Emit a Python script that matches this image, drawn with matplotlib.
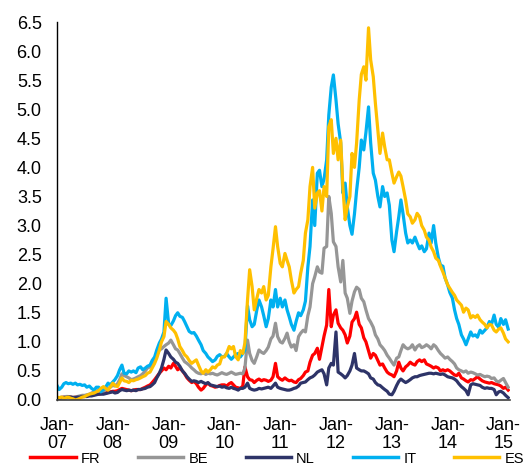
import matplotlib
matplotlib.use('Agg')
import matplotlib.pyplot as plt
import matplotlib.ticker as mticker
import pandas as pd
import numpy as np

plt.rcParams['font.family'] = ['Liberation Sans', 'DejaVu Sans']

# semi-monthly observations, Jan 2007 .. Feb 2015
dates = pd.date_range('2007-01-01', periods=195, freq='SMS')

fr = [0.04,0.04,0.04,0.05,0.05,0.05,0.05,0.04,0.05,0.05,0.06,0.06,
      0.06,0.07,0.08,0.08,0.09,0.10,0.10,0.11,0.12,0.12,0.13,0.14,
      0.15,0.15,0.16,0.18,0.20,0.19,0.18,0.17,0.16,0.17,0.18,0.18,
      0.18,0.20,0.22,0.24,0.26,0.30,0.35,0.40,0.46,0.50,0.55,0.52,
      0.58,0.55,0.63,0.58,0.52,0.55,0.50,0.45,0.38,0.34,0.30,0.32,
      0.28,0.22,0.17,0.20,0.26,0.29,0.25,0.24,0.22,0.23,0.25,0.26,
      0.26,0.24,0.28,0.30,0.26,0.22,0.21,0.20,0.24,0.57,0.40,0.35,
      0.34,0.30,0.34,0.36,0.33,0.35,0.34,0.32,0.34,0.40,0.63,0.40,
      0.36,0.34,0.38,0.35,0.33,0.34,0.31,0.30,0.35,0.37,0.42,0.48,
      0.50,0.65,0.77,0.80,0.89,0.70,0.91,1.10,1.29,1.90,1.26,1.46,
      1.55,1.32,1.24,1.20,1.12,0.98,1.10,1.34,1.40,1.51,1.30,1.24,
      1.07,1.00,0.85,0.72,0.80,0.77,0.68,0.60,0.62,0.55,0.48,0.45,
      0.43,0.40,0.50,0.65,0.55,0.50,0.57,0.60,0.65,0.62,0.60,0.66,
      0.69,0.66,0.69,0.62,0.60,0.58,0.55,0.57,0.55,0.50,0.52,0.50,
      0.52,0.50,0.46,0.43,0.42,0.46,0.38,0.36,0.33,0.31,0.35,0.34,
      0.37,0.40,0.36,0.33,0.31,0.30,0.29,0.30,0.28,0.27,0.26,0.24,0.20,0.22,0.17]

be = [0.04,0.04,0.05,0.05,0.06,0.06,0.05,0.05,0.05,0.06,0.07,0.08,
      0.08,0.09,0.10,0.12,0.14,0.15,0.17,0.16,0.14,0.18,0.20,0.22,
      0.25,0.24,0.28,0.35,0.45,0.42,0.40,0.38,0.35,0.36,0.38,0.40,
      0.42,0.45,0.50,0.55,0.57,0.62,0.70,0.78,0.86,0.88,0.92,0.95,
      0.98,1.03,0.95,0.88,0.86,0.80,0.72,0.66,0.63,0.60,0.55,0.52,
      0.48,0.46,0.45,0.47,0.44,0.46,0.45,0.46,0.44,0.43,0.45,0.47,
      0.45,0.44,0.46,0.48,0.46,0.44,0.45,0.46,0.45,0.55,1.03,0.80,
      0.68,0.63,0.75,0.86,0.82,0.80,0.85,0.91,1.05,1.10,1.32,1.09,
      1.00,0.98,1.06,1.15,1.00,0.91,0.95,0.85,1.09,1.15,1.20,1.17,
      1.45,1.60,2.00,2.12,2.29,2.20,2.18,2.61,2.64,3.50,3.21,2.72,
      2.64,2.29,2.03,2.40,1.84,1.75,1.49,1.70,1.86,1.94,1.90,1.75,
      1.69,1.55,1.40,1.34,1.25,1.12,1.05,0.95,0.90,0.85,0.77,0.72,
      0.65,0.60,0.72,0.74,0.85,0.95,0.90,0.88,0.90,0.95,0.86,0.92,
      0.95,0.90,0.92,0.95,0.92,0.88,0.95,0.92,0.85,0.80,0.76,0.72,
      0.74,0.70,0.66,0.62,0.55,0.52,0.50,0.48,0.50,0.46,0.48,0.47,
      0.45,0.43,0.44,0.42,0.40,0.41,0.40,0.37,0.38,0.33,0.31,0.34,0.37,0.30,0.22]

nl = [0.03,0.03,0.04,0.04,0.04,0.05,0.05,0.04,0.04,0.05,0.05,0.06,
      0.06,0.06,0.07,0.07,0.08,0.09,0.10,0.10,0.10,0.11,0.12,0.13,
      0.14,0.12,0.13,0.16,0.18,0.17,0.16,0.17,0.16,0.17,0.16,0.18,
      0.18,0.19,0.20,0.22,0.23,0.26,0.30,0.38,0.46,0.55,0.70,0.86,
      0.80,0.74,0.70,0.65,0.63,0.58,0.50,0.46,0.40,0.36,0.32,0.33,
      0.32,0.30,0.32,0.30,0.28,0.30,0.26,0.25,0.24,0.23,0.24,0.22,
      0.23,0.21,0.20,0.22,0.20,0.19,0.17,0.20,0.20,0.22,0.29,0.20,
      0.18,0.17,0.18,0.20,0.19,0.20,0.21,0.22,0.20,0.24,0.29,0.22,
      0.20,0.19,0.18,0.17,0.17,0.18,0.20,0.21,0.24,0.29,0.30,0.31,
      0.35,0.38,0.40,0.43,0.48,0.50,0.52,0.45,0.26,0.55,0.63,0.60,
      1.17,0.48,0.45,0.42,0.38,0.42,0.50,0.60,0.80,0.55,0.52,0.50,
      0.50,0.48,0.45,0.38,0.36,0.30,0.26,0.25,0.21,0.18,0.15,0.10,
      0.09,0.15,0.25,0.32,0.36,0.33,0.30,0.32,0.35,0.38,0.40,0.40,
      0.42,0.43,0.44,0.45,0.46,0.46,0.45,0.46,0.45,0.44,0.45,0.43,
      0.40,0.39,0.38,0.36,0.33,0.28,0.23,0.20,0.16,0.09,0.26,0.28,
      0.27,0.26,0.25,0.22,0.20,0.21,0.20,0.20,0.18,0.09,0.14,0.15,0.12,0.08,0.04]

it = [0.25,0.18,0.22,0.28,0.30,0.28,0.29,0.27,0.29,0.26,0.27,0.25,
      0.26,0.22,0.24,0.20,0.17,0.22,0.22,0.14,0.18,0.22,0.29,0.26,
      0.31,0.35,0.42,0.52,0.60,0.46,0.45,0.50,0.48,0.50,0.47,0.55,
      0.57,0.52,0.55,0.58,0.60,0.68,0.74,0.86,0.98,1.05,1.17,1.75,
      1.30,1.28,1.36,1.45,1.50,1.44,1.42,1.35,1.26,1.18,1.15,1.16,
      1.10,1.03,0.95,0.85,0.80,0.74,0.70,0.66,0.69,0.75,0.78,0.74,
      0.75,0.80,0.74,0.70,0.74,0.78,0.80,0.74,0.80,0.86,1.62,1.38,
      1.26,1.30,1.55,1.72,1.60,1.45,1.26,1.40,1.72,1.60,1.90,1.60,
      1.75,1.60,1.72,1.55,1.43,1.30,1.20,1.35,1.50,1.45,1.55,1.70,
      2.29,2.64,3.44,3.00,3.90,3.95,3.67,3.80,4.13,4.90,5.38,5.59,
      5.16,4.75,4.42,3.56,3.73,3.32,3.00,2.85,3.20,3.60,4.00,4.47,
      4.30,4.60,5.04,4.42,3.90,3.78,3.50,3.32,3.67,3.50,3.56,3.35,
      2.75,2.55,2.90,3.15,3.44,3.20,2.87,2.70,2.75,2.70,2.80,2.70,
      2.60,2.65,2.55,2.60,2.87,2.70,3.00,2.70,2.45,2.32,2.30,2.10,
      1.98,1.85,1.75,1.55,1.40,1.30,1.12,1.05,0.95,1.05,1.17,1.10,
      1.12,1.08,1.20,1.15,1.20,1.24,1.35,1.30,1.46,1.30,1.25,1.40,1.30,1.38,1.22]

es = [0.05,0.04,0.05,0.03,0.04,0.05,0.03,0.02,0.00,0.01,0.03,0.05,
      0.06,0.08,0.10,0.11,0.12,0.14,0.16,0.20,0.23,0.20,0.17,0.22,
      0.29,0.25,0.23,0.30,0.38,0.33,0.32,0.30,0.34,0.33,0.35,0.36,
      0.38,0.40,0.42,0.46,0.48,0.55,0.63,0.72,0.86,1.00,1.09,1.35,
      1.30,1.24,1.20,1.15,1.05,0.92,0.85,0.78,0.74,0.68,0.63,0.66,
      0.69,0.60,0.50,0.46,0.52,0.48,0.52,0.57,0.55,0.60,0.62,0.74,
      0.74,0.80,0.92,0.88,0.92,0.75,0.69,0.85,0.80,0.98,1.72,2.24,
      1.95,1.55,1.75,1.90,1.84,1.95,1.72,1.80,2.29,2.60,2.98,2.64,
      2.35,2.29,2.52,2.40,2.29,2.06,1.84,1.90,1.95,2.18,2.40,2.87,
      3.10,3.67,4.00,3.30,3.56,3.60,3.25,3.67,3.50,4.70,4.82,4.24,
      4.50,4.13,4.47,3.67,3.10,3.32,3.50,4.24,4.00,4.42,5.16,5.60,
      5.73,5.50,6.40,5.85,5.56,5.10,4.64,4.24,4.59,4.35,4.13,4.13,
      3.90,3.73,3.84,3.92,3.85,3.67,3.44,3.20,3.15,3.04,3.10,3.21,
      3.15,3.00,2.92,2.80,2.75,2.63,2.55,2.44,2.40,2.30,2.20,2.10,
      1.98,1.92,1.85,1.80,1.72,1.68,1.63,1.51,1.58,1.55,1.41,1.45,
      1.42,1.46,1.38,1.34,1.30,1.24,1.30,1.29,1.20,1.17,1.22,1.24,1.15,1.05,1.00]

series_names = ['FR', 'BE', 'NL', 'IT', 'ES']
series_values = [fr, be, nl, it, es]
series_colors = ['#FF0000', '#969696', '#2E3468', '#00B0F0', '#FFC000']

year_ticks = pd.date_range('2007-01-01', '2015-01-01', freq='YS')
year_labels = ['Jan-\n07', 'Jan-\n08', 'Jan-\n09', 'Jan-\n10', 'Jan-\n11',
               'Jan-\n12', 'Jan-\n13', 'Jan-\n14', 'Jan-\n15']

fig = plt.figure(figsize=(5.23, 4.66), dpi=100)
ax = fig.add_axes([57/523, 66/466, 453/523, 378/466])

for name, vals, col in zip(series_names, series_values, series_colors):
    ax.plot(dates, vals, color=col, lw=2.3, label=name, solid_joinstyle='round')

ax.set_ylim(0, 6.5)
ax.set_yticks(np.arange(0, 6.51, 0.5))
ax.yaxis.set_major_formatter(mticker.FormatStrFormatter('%.1f'))
ax.set_xlim(pd.Timestamp('2007-01-01'), pd.Timestamp('2015-02-13'))
ax.set_xticks(year_ticks)
ax.set_xticklabels(year_labels, linespacing=1.1)
ax.tick_params(axis='y', length=0, labelsize=13, pad=11, colors='#000000')
ax.tick_params(axis='x', length=0, labelsize=13, pad=12, colors='#000000')

for s in ['top', 'right']:
    ax.spines[s].set_visible(False)
ax.spines['left'].set_color('#000000')
ax.spines['left'].set_linewidth(1.0)
ax.spines['bottom'].set_color('#404040')
ax.spines['bottom'].set_linewidth(1.2)

fig.legend(loc='center', bbox_to_anchor=(0.53, 0.016), ncol=5, frameon=False,
           fontsize=10.5, handlelength=3.1, handletextpad=0.35, columnspacing=2.6,
           borderpad=0, borderaxespad=0)
for lh in fig.legends[0].get_lines():
    lh.set_linewidth(2.5)

fig.savefig('out.png', dpi=100)
